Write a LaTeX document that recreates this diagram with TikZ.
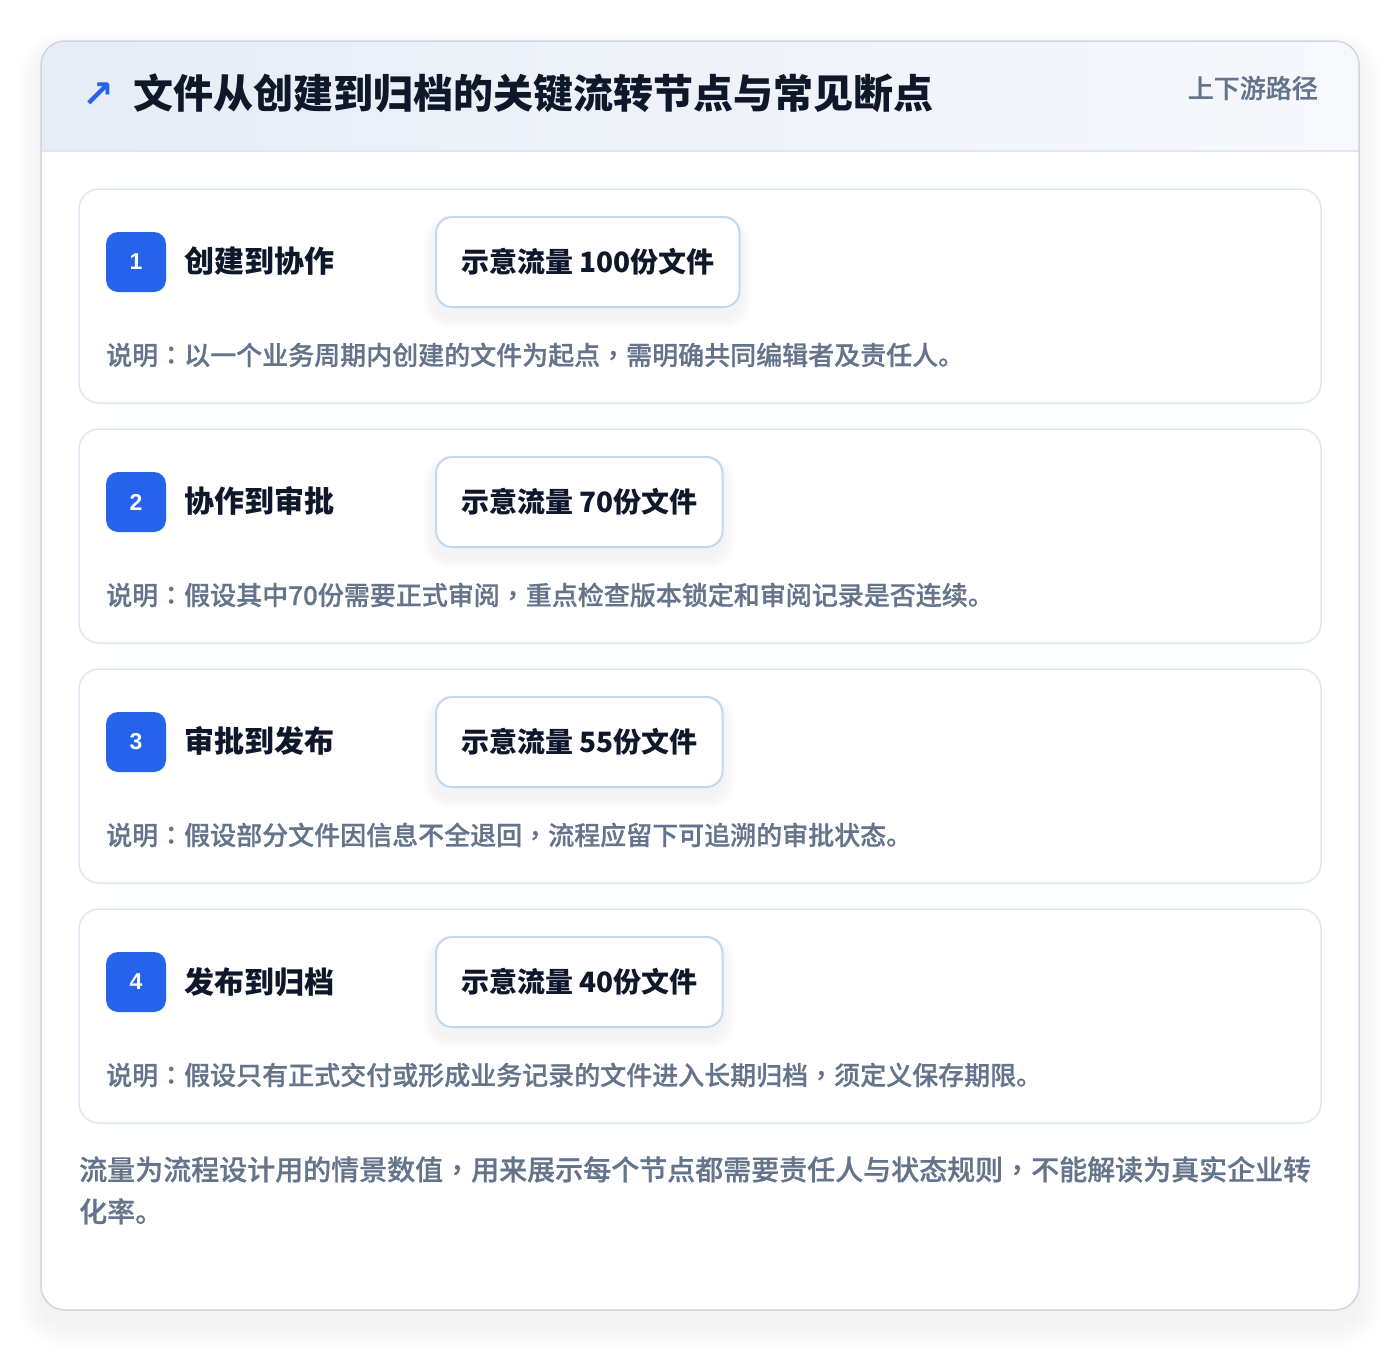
\documentclass[tikz,border=0pt]{standalone}
\usepackage{fontspec}
\setmainfont{Noto Sans CJK SC}
\newfontfamily\medfont{Noto Sans CJK SC Medium}[FakeBold=0.6]
\newfontfamily\tcfont{Noto Sans CJK TC Medium}[FakeBold=0.6]
\newfontfamily\arrowfont{DejaVu Sans}
\newfontfamily\numfont{Liberation Sans}
\newcommand\zhcolon{{\tcfont ：}}
\newcommand\zhcomma{{\tcfont ，}}

\definecolor{ink}{HTML}{0F172A}
\definecolor{slate}{HTML}{64748B}
\definecolor{brand}{HTML}{2563EB}
\definecolor{frame}{HTML}{CDD6E2}
\definecolor{cardline}{HTML}{DCE7F3}
\definecolor{pillline}{HTML}{C2D8F0}
\definecolor{headL}{HTML}{E7ECF5}
\definecolor{headR}{HTML}{F6F8FC}

\tikzset{
  stepcard/.style={draw=cardline, line width=1.5pt, fill=white, rounded corners=20pt},
  badge/.style={fill=brand, rounded corners=12pt, minimum size=60pt, inner sep=0pt,
    text=white, font=\numfont\bfseries\fontsize{23}{26}\selectfont},
  steptitle/.style={anchor=west, inner sep=0pt, text=ink, font=\bfseries\fontsize{30}{36}\selectfont},
  pill/.style={draw=pillline, line width=2pt, fill=white, rounded corners=16pt,
    minimum height=90pt, inner xsep=25pt, anchor=west, text=ink,
    font=\bfseries\fontsize{28}{34}\selectfont},
  note/.style={anchor=west, inner sep=0pt, text=slate, font=\medfont\fontsize{26}{32}\selectfont},
  softshade/.style={fill=black, fill opacity=#1},
}

% soft shadow under a rounded box: x1,y1,x2,y2,radius
\newcommand\softshadow[5]{%
  \foreach \d in {2,4,...,24}
    \path[softshade=0.0055, rounded corners=#5+\d] (#1-\d,#2-\d+14) rectangle (#3+\d,#4+\d+14);}
\newcommand\pillshadow[4]{%
  \foreach \d in {2,4,...,12}
    \path[softshade=0.006, rounded corners=16+\d] (#1-\d,#2-\d+10) rectangle (#3+\d,#4+\d+10);}

\begin{document}
\begin{tikzpicture}
  [x=1pt,y=-1pt]
  \useasboundingbox[fill=white] (0,0) rectangle (1400,1352);

  % outer card
  \softshadow{41}{41}{1359}{1310}{24}
  \path[fill=white, rounded corners=24pt] (41,41) rectangle (1359,1310);
  \begin{scope}
    \clip[rounded corners=24pt] (41,41) rectangle (1359,1310);
    \shade[left color=headL, right color=headR] (41,41) rectangle (1359,151);
  \end{scope}
  \draw[cardline, line width=1.5pt] (41,151) -- (1359,151);
  \draw[frame, line width=1.5pt, rounded corners=24pt] (41,41) rectangle (1359,1310);

  % header
  \node[text=brand, font=\arrowfont\bfseries\fontsize{38}{40}\selectfont, inner sep=0pt] (arrow) at (98,95) {↗};
  \node[anchor=west, inner sep=0pt, text=ink, font=\bfseries\fontsize{40}{48}\selectfont] (title) at (133,93)
    {文件从创建到归档的关键流转节点与常见断点};
  \node[anchor=east, inner sep=0pt, text=slate, font=\medfont\fontsize{26}{32}\selectfont] (path) at (1318,88)
    {上下游路径};

  % step 1
  \path[stepcard] (79,189) rectangle (1321,403);
  \pillshadow{435}{217}{739}{307}
  \node[badge] (b1) at (136,262) {1};
  \node[steptitle] (t1) at (184,261) {创建到协作};
  \node[pill] (f1) at (435,262) {示意流量 100份文件};
  \node[note] (n1) at (106,355) {说明\zhcolon 以一个业务周期内创建的文件为起点\zhcomma 需明确共同编辑者及责任人。};

  % step 2
  \path[stepcard] (79,429) rectangle (1321,643);
  \pillshadow{435}{457}{723}{547}
  \node[badge] (b2) at (136,502) {2};
  \node[steptitle] (t2) at (184,501) {协作到审批};
  \node[pill] (f2) at (435,502) {示意流量 70份文件};
  \node[note] (n2) at (106,595) {说明\zhcolon 假设其中70份需要正式审阅\zhcomma 重点检查版本锁定和审阅记录是否连续。};

  % step 3
  \path[stepcard] (79,669) rectangle (1321,883);
  \pillshadow{435}{697}{723}{787}
  \node[badge] (b3) at (136,742) {3};
  \node[steptitle] (t3) at (184,741) {审批到发布};
  \node[pill] (f3) at (435,742) {示意流量 55份文件};
  \node[note] (n3) at (106,835) {说明\zhcolon 假设部分文件因信息不全退回\zhcomma 流程应留下可追溯的审批状态。};

  % step 4
  \path[stepcard] (79,909) rectangle (1321,1123);
  \pillshadow{435}{937}{723}{1027}
  \node[badge] (b4) at (136,982) {4};
  \node[steptitle] (t4) at (184,982) {发布到归档};
  \node[pill] (f4) at (435,982) {示意流量 40份文件};
  \node[note] (n4) at (106,1075) {说明\zhcolon 假设只有正式交付或形成业务记录的文件进入长期归档\zhcomma 须定义保存期限。};

  % footnote
  \node[anchor=north west, inner sep=0pt, align=left, text=slate, font=\medfont\fontsize{28}{42}\selectfont] (foot) at (79,1156)
    {流量为流程设计用的情景数值\zhcomma 用来展示每个节点都需要责任人与状态规则\zhcomma 不能解读为真实企业转\\化率。};
\end{tikzpicture}
\end{document}
